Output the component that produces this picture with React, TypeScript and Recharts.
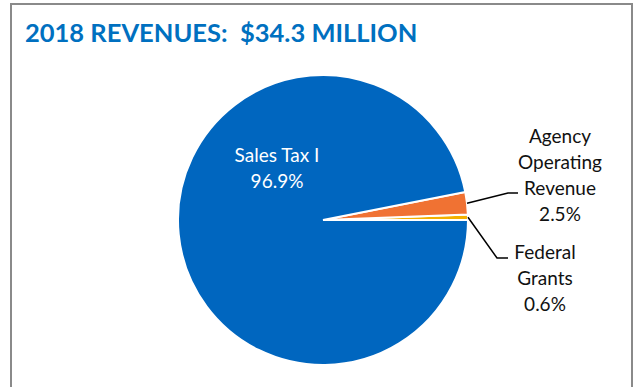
import React from "react"
import { PieChart, Pie, Cell } from "recharts"

const title = "2018 REVENUES:  $34.3 MILLION"

// counterclockwise from 3 o'clock, the way the slices sit in the picture
const categories = ["Federal Grants", "Agency Operating Revenue", "Sales Tax I"]
const shares = [0.6, 2.5, 96.9]
const labelLines = [
  ["Federal", "Grants"],
  ["Agency", "Operating", "Revenue"],
  ["Sales Tax I"],
]
const colors = ["#F3B000", "#F07233", "#0066BF"]

const data = categories.map((name, i) => ({ name, value: shares[i], lines: labelLines[i] }))

const FONT = "Lato, 'Open Sans', sans-serif"
const LINE_H = 26

// where each label block sits, relative to the pie centre
const labelLayout: Record<string, { dx: number; dy: number; inside?: boolean; elbow?: [number, number]; end?: number }> = {
  "Sales Tax I": { dx: -46, dy: -66, inside: true },
  "Agency Operating Revenue": { dx: 237, dy: -85, elbow: [185, -27], end: 195 },
  "Federal Grants": { dx: 222, dy: 31, elbow: [174, 38], end: 185 },
}

function renderLabel(props: any) {
  const { cx, cy, midAngle, outerRadius, payload, value } = props
  const name = payload.name
  const lay = labelLayout[name]
  if (!lay) return null
  const rad = (Math.PI / 180) * midAngle
  const sx = cx + outerRadius * Math.cos(rad)
  const sy = cy - outerRadius * Math.sin(rad)
  const lines: string[] = [...payload.lines, `${value.toFixed(1)}%`]
  return (
    <g>
      {lay.elbow && (
        <polyline
          points={`${sx},${sy} ${cx + lay.elbow[0]},${cy + lay.elbow[1]} ${cx + lay.end!},${cy + lay.elbow[1]}`}
          fill="none"
          stroke="#000"
          strokeWidth={1.5}
        />
      )}
      {lines.map((t, i) => (
        <text
          key={i}
          x={cx + lay.dx}
          y={cy + lay.dy + i * LINE_H}
          textAnchor="middle"
          dominantBaseline="central"
          fontFamily={FONT}
          fontSize={19}
          fill={lay.inside ? "#fff" : "#111"}
        >
          {t}
        </text>
      ))}
    </g>
  )
}

export default function App() {
  return (
    <div style={{ position: "relative", width: 636, height: 387, background: "#fff", overflow: "hidden" }}>
      <style>{"body{margin:0}"}</style>
      <div
        style={{
          position: "absolute",
          left: 10,
          top: 3,
          width: 623,
          height: 420,
          border: "2px solid #8a8a8a",
          boxSizing: "border-box",
        }}
      />
      <div
        style={{
          position: "absolute",
          left: 25,
          top: 16,
          fontFamily: FONT,
          fontWeight: 700,
          fontSize: 25.5,
          lineHeight: "32px",
          color: "#0070C0",
          whiteSpace: "pre",
        }}
      >
        {title}
      </div>
      <PieChart
        width={636}
        height={387}
        margin={{ top: 0, right: 0, bottom: 0, left: 0 }}
        style={{ position: "absolute", left: 0, top: 0 }}
      >
        <Pie
          data={data}
          dataKey="value"
          nameKey="name"
          cx={323}
          cy={220}
          outerRadius={145}
          startAngle={0}
          endAngle={360}
          stroke="#fff"
          strokeWidth={2}
          label={renderLabel}
          labelLine={false}
          isAnimationActive={false}
        >
          {data.map((d, i) => (
            <Cell key={d.name} fill={colors[i]} />
          ))}
        </Pie>
      </PieChart>
    </div>
  )
}
